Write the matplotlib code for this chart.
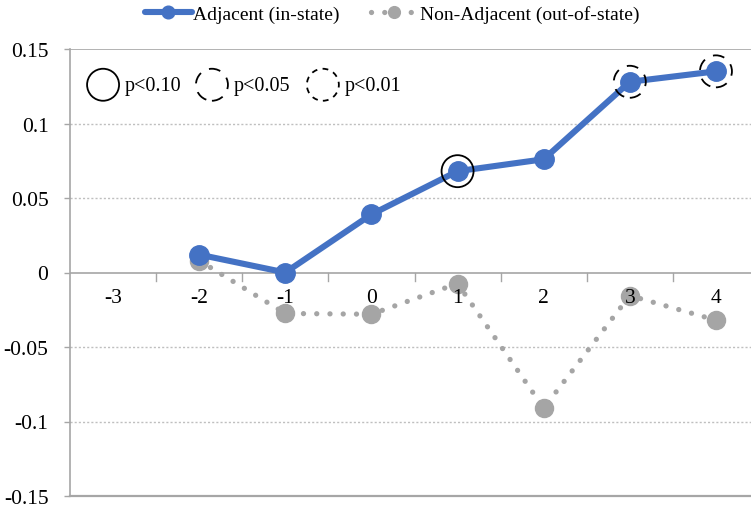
import numpy as np
import matplotlib
matplotlib.use('Agg')
import matplotlib.pyplot as plt
from matplotlib.patches import Circle
from matplotlib.transforms import ScaledTranslation

plt.rcParams['font.family'] = ['Liberation Serif', 'DejaVu Serif']

periods = [-3, -2, -1, 0, 1, 2, 3, 4]
adj_x = [-2, -1, 0, 1, 2, 3, 4]
adjacent = [0.012, 0.0, 0.039, 0.068, 0.076, 0.128, 0.135]
non_adjacent = [0.008, -0.0275, -0.028, -0.0074, -0.091, -0.0155, -0.032]
# significance markers on the adjacent series: (period, level)
sig_points = [(1, 'p<0.10'), (3, 'p<0.05'), (4, 'p<0.05')]
yticks = [-0.15, -0.1, -0.05, 0, 0.05, 0.1, 0.15]
ytick_labels = ['-0.15', '-0.1', '-0.05', '0', '0.05', '0.1', '0.15']

blue = '#4472C4'
gray = '#A5A5A5'
axis_gray = '#A6A6A6'
sig_styles = {'p<0.10': 'solid',
              'p<0.05': (0, (6.5, 5.0)),
              'p<0.01': (0, (3.2, 3.0))}

fig = plt.figure(figsize=(7.51, 5.10), dpi=100)
ax = fig.add_axes([70/751, 13/510, 689/751, 447/510])

xpos = {p: i for i, p in enumerate(periods)}
ax.plot([xpos[p] for p in adj_x], adjacent, color=blue, lw=4.4, marker='o',
        ms=14, solid_capstyle='round', zorder=4, label='Adjacent (in-state)')
ax.plot([xpos[p] for p in adj_x], non_adjacent, color=gray, lw=3.8,
        linestyle=(0, (0.01, 2.5)), dash_capstyle='round', marker='o', ms=13,
        zorder=3, label='Non-Adjacent (out-of-state)')

# significance circles around points
for p, lvl in sig_points:
    y = adjacent[adj_x.index(p)]
    tr = fig.dpi_scale_trans + ScaledTranslation(xpos[p], y, ax.transData)
    ax.add_patch(Circle((0, 0), 0.16, transform=tr, fill=False, ec='black',
                        lw=1.3, linestyle=sig_styles[lvl], zorder=5))

# key for significance levels
key_x = [0.048, 0.206, 0.367]
for kx, lvl in zip(key_x, ['p<0.10', 'p<0.05', 'p<0.01']):
    tr = fig.dpi_scale_trans + ScaledTranslation(kx, 0.92, ax.transAxes)
    ax.add_patch(Circle((0, 0), 0.16, transform=tr, fill=False, ec='black',
                        lw=1.3, linestyle=sig_styles[lvl], zorder=5, clip_on=False))
    ax.text(kx + 0.031, 0.918, lvl, transform=ax.transAxes, fontsize=14.5,
            va='center', ha='left')

ax.set_xlim(-0.5, len(periods) - 0.5)
ax.set_ylim(-0.15, 0.15)
ax.set_yticks(yticks)
ax.set_yticklabels(ytick_labels, fontsize=15.5)
ax.tick_params(axis='y', length=4.5, width=1.0, color=axis_gray, pad=11)

# category labels sit just below the zero line
ax.set_xticks([])
for p in periods:
    ax.text(xpos[p], -0.0168, str(p), ha='center', va='center', fontsize=15.5)
for b in np.arange(0.5, len(periods) - 0.5):
    ax.plot([b, b], [0, -0.0055], color=axis_gray, lw=1.0, zorder=1)

for y in [-0.1, -0.05, 0.05, 0.1]:
    ax.axhline(y, color='#BFBFBF', lw=1.0, linestyle=(0, (1.5, 1.5)), zorder=0)
ax.axhline(0, color=axis_gray, lw=1.2, zorder=1)
ax.axhline(0.15, color=axis_gray, lw=1.2, zorder=1)

for s in ['top', 'right']:
    ax.spines[s].set_visible(False)
ax.spines['left'].set_color(axis_gray)
ax.spines['left'].set_linewidth(1.2)
ax.spines['bottom'].set_color(axis_gray)
ax.spines['bottom'].set_linewidth(1.6)

fig.legend(loc='center', bbox_to_anchor=(0.522, 0.97), ncol=2, frameon=False,
           fontsize=14, handlelength=2.4, handletextpad=0.1, columnspacing=1.6,
           markerscale=0.65)

fig.savefig('out.png', dpi=100)
